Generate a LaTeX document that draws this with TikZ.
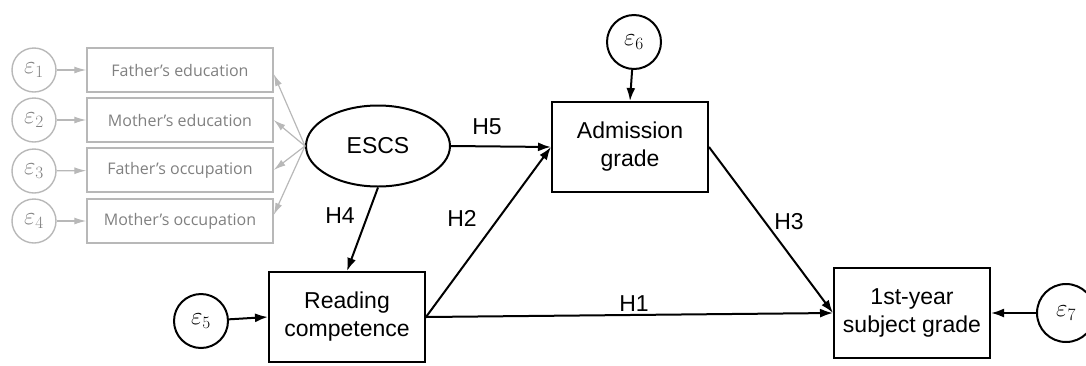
\documentclass[tikz,border=0pt]{standalone}
\usepackage{fontspec}
\setmainfont{Liberation Sans}
\newfontfamily\indfont{Open Sans}
\usetikzlibrary{arrows.meta,positioning,shapes.geometric}
\definecolor{indline}{gray}{0.72}
\definecolor{indtext}{gray}{0.5}
\begin{document}
\begin{tikzpicture}[x=1pt,y=-1pt,
    obs/.style={draw,line width=2pt,minimum width=156pt,minimum height=90pt,inner sep=0pt,align=center,font=\fontsize{23}{28}\selectfont},
    err/.style={draw,circle,line width=2pt,minimum size=54pt,inner sep=0pt,font=\fontsize{26}{26}\selectfont},
    indobs/.style={draw=indline,line width=1.4pt,minimum width=186pt,minimum height=44pt,inner sep=0pt,text=indtext,font=\indfont\fontsize{16}{18}\selectfont},
    inderr/.style={draw=indline,circle,line width=1.4pt,minimum size=44pt,inner sep=0pt,text=indtext,font=\fontsize{26}{26}\selectfont},
    hyp/.style={font=\fontsize{23}{23}\selectfont},
    path/.style={line width=2pt,-{Latex[length=13pt,width=9pt]}},
    indpath/.style={draw=indline,line width=1.2pt,-{Latex[length=12pt,width=7pt]}}]
    \useasboundingbox (0,0) rectangle (1086,365);
    % indicators of ESCS
    \node[inderr] (e1) at (34,70) {$\varepsilon_1$};
    \node[inderr] (e2) at (34,120) {$\varepsilon_2$};
    \node[inderr] (e3) at (34,171) {$\varepsilon_3$};
    \node[inderr] (e4) at (34,221) {$\varepsilon_4$};
    \node[indobs] (fedu) at (180,70) {Father’s education};
    \node[indobs] (medu) at (180,120) {Mother’s education};
    \node[indobs] (focc) at (180,170) {Father’s occupation};
    \node[indobs] (mocc) at (180,221) {Mother’s occupation};
    \foreach \e/\b in {e1/fedu,e2/medu,e3/focc,e4/mocc}
        \draw[indpath] (\e) -- (\b);
    % main model
    \node[draw,ellipse,line width=2pt,minimum width=144pt,minimum height=81pt,inner sep=0pt,font=\fontsize{23}{23}\selectfont] (escs) at (378,146) {ESCS};
    \node[obs] (read) at (347,317) {Reading\\competence};
    \node[obs] (adm) at (630,147) {Admission\\grade};
    \node[obs] (first) at (912,313) {1st-year\\subject grade};
    \node[err] (e5) at (201,321) {$\varepsilon_5$};
    \node[err] (e6) at (634,42) {$\varepsilon_6$};
    \node[err,minimum size=58pt] (e7) at (1066,313) {$\varepsilon_7$};
    \draw[indpath] (escs.west) -- ([yshift=-4pt]fedu.east);
    \draw[indpath] (escs.west) -- (medu.east);
    \draw[indpath] (escs.west) -- (focc.east);
    \draw[indpath] (escs.west) -- ([yshift=6pt]mocc.east);
    \draw[path] (escs.south) -- (read.north);
    \draw[path] (escs.east) -- (adm.west);
    \draw[path] (read.east) -- (adm.west);
    \draw[path] (read.east) -- (first.west);
    \draw[path] (adm.east) -- (first.west);
    \draw[path] (e5) -- (read.west);
    \draw[path] (e6) -- (adm.north);
    \draw[path] (e7) -- (first.east);
    % hypotheses
    \node[hyp] (h1) at (634,304) {H1};
    \node[hyp] (h2) at (462,218) {H2};
    \node[hyp] (h3) at (789,222) {H3};
    \node[hyp] (h4) at (340,216) {H4};
    \node[hyp] (h5) at (487,127) {H5};
\end{tikzpicture}
\end{document}
